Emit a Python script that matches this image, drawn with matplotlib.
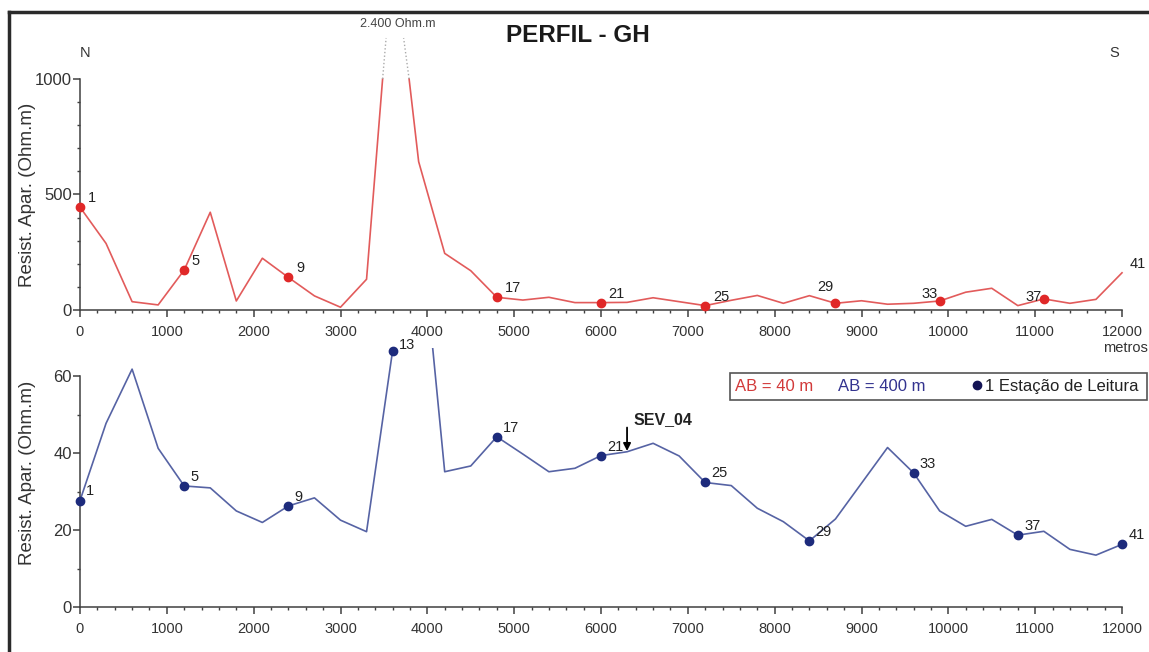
import matplotlib
matplotlib.use("Agg")
import matplotlib.pyplot as plt
from matplotlib.patches import Rectangle
from matplotlib.lines import Line2D
import numpy as np

plt.rcParams['font.family'] = ['Liberation Sans', 'DejaVu Sans']

# ---------------- data ----------------
# AB = 40 m (top panel); the peak near 3600 m (2.400 Ohm.m) is cut at 1000
top_x = [0, 300, 600, 900, 1200, 1500, 1800, 2100, 2400, 2700, 3000, 3300,
         3485, np.nan, 3790, 3900, 4200, 4500, 4800, 5100, 5400, 5700, 6000,
         6300, 6600, 6900, 7200, 7500, 7800, 8100, 8400, 8700, 9000, 9300,
         9600, 9900, 10200, 10500, 10800, 11100, 11400, 11700, 12000]
top_y = [445, 288, 36, 22, 173, 423, 39, 224, 141, 61, 12, 133,
         1000, np.nan, 1000, 642, 245, 170, 55, 43, 55, 32, 32,
         33, 53, 36, 19, 42, 63, 29, 62, 29, 40, 25,
         29, 39, 77, 94, 19, 48, 29, 46, 161]
top_dot_x = [0, 1200, 2400, 4800, 6000, 7200, 8700, 9900, 11100]
top_dot_y = [445, 173, 141, 55, 32, 19, 29, 39, 48]
top_label_st = ['1', '5', '9', '17', '21', '25', '29', '33', '37', '41']
top_label_x = [0, 1200, 2400, 4800, 6000, 7200, 8400, 9600, 10800, 12000]
top_label_y = [445, 173, 141, 55, 32, 19, 62, 29, 19, 161]
peak_cut_x = [3485, 3790]
peak_top_x = [3525, 3727]
peak_value_label = '2.400 Ohm.m'

# AB = 400 m (bottom panel)
bot_x = list(range(0, 12001, 300))
bot_y = [27.7, 47.8, 61.9, 41.3, 31.5, 31.0, 25.0, 22.0, 26.3, 28.4, 22.6,
         19.6, 66.7, 105, 35.2, 36.7, 44.3, 39.8, 35.2, 36.1, 39.4, 40.4,
         42.6, 39.3, 32.4, 31.6, 25.7, 22.2, 17.2, 22.9, 32.2, 41.5, 34.9,
         25.0, 21.0, 22.8, 18.7, 19.7, 15.0, 13.5, 16.3]
stations = ['1', '5', '9', '13', '17', '21', '25', '29', '33', '37', '41']
station_x = [0, 1200, 2400, 3600, 4800, 6000, 7200, 8400, 9600, 10800, 12000]
sev_x = 6300
sev_name = 'SEV_04'

red_line = '#e25b5b'
red_dot = '#e02828'
blue_line = '#5663a4'
blue_dot = '#1d2b7c'
axc = '#404040'

# ---------------- figure ----------------
W, H = 1149, 652
fig = plt.figure(figsize=(W / 100, H / 100), dpi=100)

def px_axes(x0, x1, ytop, ybot):
    return fig.add_axes([x0 / W, 1 - ybot / H, (x1 - x0) / W, (ybot - ytop) / H])

ax1 = px_axes(80, 1122, 38, 310)
ax2 = px_axes(80, 1122, 348, 607)

for ax in (ax1, ax2):
    ax.set_facecolor('none')
    for s in ('top', 'right'):
        ax.spines[s].set_visible(False)
    for s in ('left', 'bottom'):
        ax.spines[s].set_color(axc)
        ax.spines[s].set_linewidth(1.1)
    ax.set_xlim(0, 12000)
    ax.spines['bottom'].set_bounds(0, 12000)
    ax.set_xticks(range(0, 12001, 1000))
    ax.set_xticks(range(0, 12001, 200), minor=True)
    ax.tick_params(axis='x', which='major', direction='out', length=5, width=1.1,
                   color=axc, labelsize=10.5, labelcolor='#333333', pad=5.5)
    ax.tick_params(axis='x', which='minor', direction='out', length=2.5, width=1.0,
                   color=axc)
    ax.tick_params(axis='y', which='major', direction='out', length=5, width=1.1,
                   color=axc, labelsize=12, labelcolor='#333333', pad=1)
    ax.tick_params(axis='y', which='minor', direction='out', length=2, width=1.0,
                   color=axc)

# top panel
ax1.set_ylim(0, 1177)
ax1.spines['left'].set_bounds(0, 1000)
ax1.set_yticks([0, 500, 1000])
ax1.set_yticks(range(0, 1001, 100), minor=True)
ax1.plot(top_x, top_y, color=red_line, lw=1.2, clip_on=False, zorder=2)
ax1.plot(top_dot_x, top_dot_y, 'o', color=red_dot, ms=6, clip_on=False, zorder=3)
for cx, tx in zip(peak_cut_x, peak_top_x):
    ax1.plot([cx, tx], [1000, 1177], color='#aaaaaa', lw=1.0, ls=':', clip_on=False)
ax1.text(3660, 1238, peak_value_label, ha='center', va='center', fontsize=9,
         color='#444444')
for lab, x, y in zip(top_label_st, top_label_x, top_label_y):
    ax1.annotate(lab, (x, y), xytext=(5.5, 1.5), textcoords='offset points',
                 ha='left', va='bottom', fontsize=10.5, color='#222222',
                 annotation_clip=False)

# bottom panel
ax2.set_ylim(0, 67.4)
ax2.spines['left'].set_bounds(0, 60)
ax2.set_yticks([0, 20, 40, 60])
ax2.set_yticks(range(0, 61, 10), minor=True)
ax2.plot(bot_x, bot_y, color=blue_line, lw=1.2, zorder=2)
st_y = [bot_y[bot_x.index(x)] for x in station_x]
ax2.plot(station_x, st_y, 'o', color=blue_dot, ms=6, clip_on=False, zorder=3)
for lab, x, y in zip(stations, station_x, st_y):
    dy = -1.0 if lab == '13' else 1.5
    ax2.annotate(lab, (x, y), xytext=(4.5, dy), textcoords='offset points',
                 ha='left', va='bottom', fontsize=10.5, color='#222222',
                 annotation_clip=False)

sev_y = bot_y[bot_x.index(sev_x)]
ax2.annotate('', xy=(sev_x, sev_y + 0.2), xytext=(sev_x, sev_y + 6.3),
             arrowprops=dict(arrowstyle='-|>', color='black', lw=1.3,
                             mutation_scale=11, shrinkA=0, shrinkB=0))
ax2.text(sev_x + 75, sev_y + 6.5, sev_name, ha='left', va='bottom',
         fontsize=11.5, fontweight='bold', color='#222222')

# legend box
ax2.add_patch(Rectangle((0.624, 0.80), 0.3997, 0.103, transform=ax2.transAxes,
                        fill=False, edgecolor='#555555', lw=1.2, clip_on=False))
ly = 0.851
ax2.text(0.6286, ly, 'AB = 40 m', transform=ax2.transAxes, ha='left', va='center',
         fontsize=12, color='#d23a3a')
ax2.text(0.7274, ly, 'AB = 400 m', transform=ax2.transAxes, ha='left', va='center',
         fontsize=12, color='#33338f')
ax2.plot([0.8605], [ly + 0.005], 'o', color='#141455', ms=6, transform=ax2.transAxes,
         clip_on=False)
ax2.text(0.8685, ly, '1 Estação de Leitura', transform=ax2.transAxes, ha='left',
         va='center', fontsize=12, color='#222222')

# texts
fig.text(577.5 / W, 1 - 35 / H, 'PERFIL - GH', ha='center', va='center',
         fontsize=17.5, fontweight='bold', color='#1a1a1a')
fig.text(85 / W, 1 - 53 / H, 'N', ha='center', va='center', fontsize=10.5, color='#333333')
fig.text(1114 / W, 1 - 53 / H, 'S', ha='center', va='center', fontsize=10.5, color='#333333')
fig.text(1103 / W, 1 - 348 / H, 'metros', ha='left', va='center', fontsize=10.5,
         color='#333333')
for yc in (195, 473):
    fig.text(28 / W, 1 - yc / H, 'Resist. Apar. (Ohm.m)', rotation=90, ha='center',
             va='center', fontsize=13.5, color='#333333')

# frame (top and left)
fig.add_artist(Line2D([9 / W, 1], [1 - 12 / H, 1 - 12 / H], color='#2a2a2a', lw=2.5))
fig.add_artist(Line2D([9 / W, 9 / W], [0, 1 - 12 / H], color='#2a2a2a', lw=2.5))

fig.savefig('out.png', dpi=100)
